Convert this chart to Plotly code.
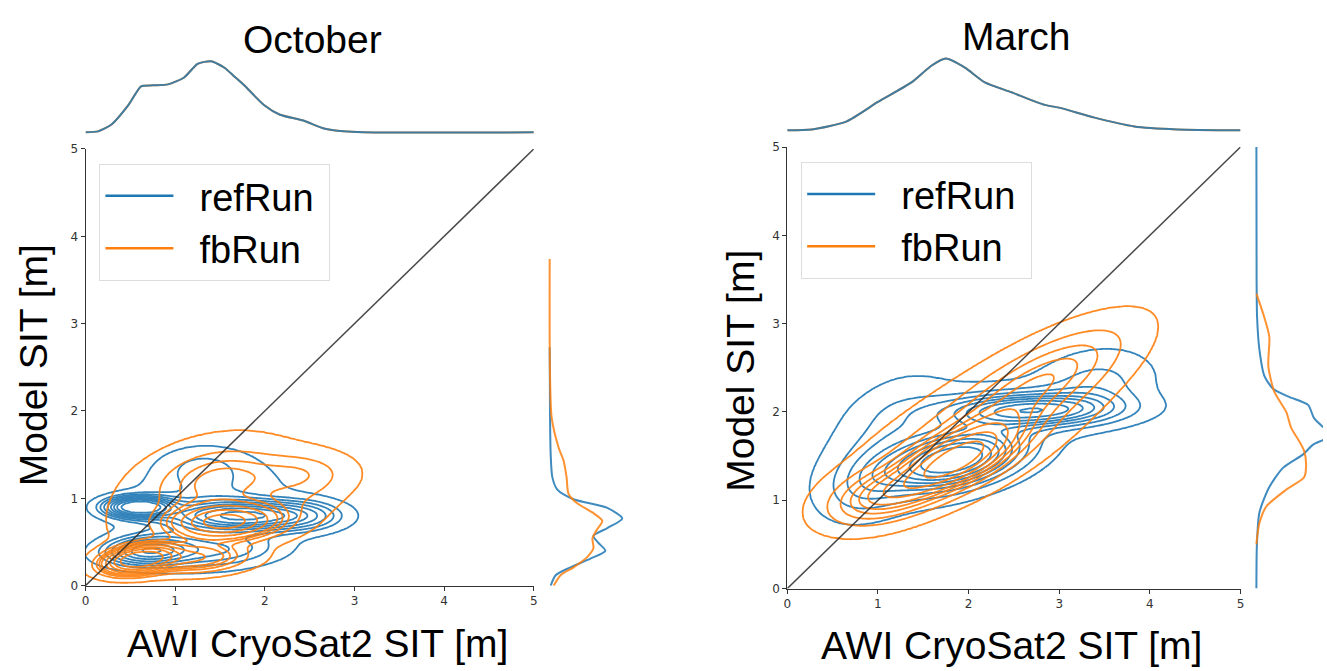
import numpy as np
import plotly.graph_objects as go

# ---------------- data ----------------
months = ["October", "March"]
runs = ["refRun", "fbRun"]
run_colors = {"refRun": "#1f77b4", "fbRun": "#ff7f0e"}
axis_ticks = [0, 1, 2, 3, 4, 5]
one_to_one = [0, 5]
x_label = "AWI CryoSat2 SIT [m]"
y_label = "Model SIT [m]"

# Joint KDE estimated as Gaussian components: (mean x, mean y, sd x, sd y, corr, weight)
oct_ref_components = [
    (0.60, 0.90, 0.22, 0.07, 0.0, 0.14),
    (1.75, 0.80, 0.45, 0.10, 0.0, 0.28),
    (0.70, 0.40, 0.30, 0.10, 0.1, 0.14),
    (1.50, 0.40, 0.45, 0.13, 0.2, 0.10),
    (1.30, 0.90, 0.60, 0.35, 0.25, 0.22),
    (2.45, 0.80, 0.30, 0.12, 0.0, 0.06),
    (1.30, 1.35, 0.30, 0.15, 0.0, 0.04),
]
oct_fb_components = [
    (0.60, 0.30, 0.22, 0.09, 0.3, 0.22),
    (1.20, 0.32, 0.35, 0.10, 0.1, 0.10),
    (1.55, 0.73, 0.35, 0.12, 0.1, 0.25),
    (1.50, 1.20, 0.40, 0.22, 0.2, 0.12),
    (1.30, 1.00, 0.75, 0.50, 0.35, 0.20),
    (2.30, 1.00, 0.40, 0.25, 0.4, 0.05),
    (2.40, 1.30, 0.35, 0.15, 0.0, 0.04),
]
mar_ref_components = [
    (1.85, 1.45, 0.45, 0.20, 0.4, 0.33),
    (2.70, 2.02, 0.60, 0.12, 0.1, 0.24),
    (1.70, 1.60, 0.75, 0.40, 0.5, 0.22),
    (3.40, 2.30, 0.40, 0.25, 0.2, 0.08),
    (0.90, 1.20, 0.30, 0.25, 0.3, 0.06),
    (1.20, 1.90, 0.40, 0.35, 0.3, 0.07),
]
mar_fb_components = [
    (1.85, 1.45, 0.45, 0.28, 0.7, 0.40),
    (2.80, 2.35, 0.60, 0.40, 0.75, 0.25),
    (2.00, 1.70, 0.90, 0.55, 0.7, 0.25),
    (1.00, 1.05, 0.35, 0.20, 0.4, 0.10),
]

# Marginal KDE curves (relative density)
oct_top_x = [0.0, 0.14, 0.29, 0.48, 0.62, 0.75, 0.92, 1.1, 1.25, 1.4, 1.55, 1.66, 1.77, 1.99, 2.17, 2.43, 2.66, 2.88, 3.1, 5.0]
oct_top_d = [0.0, 0.01, 0.08, 0.28, 0.47, 0.48, 0.49, 0.56, 0.70, 0.726, 0.66, 0.57, 0.48, 0.28, 0.18, 0.12, 0.04, 0.01, 0.0, 0.0]
mar_top_x = [0.0, 0.27, 0.65, 1.0, 1.37, 1.59, 1.75, 1.96, 2.18, 2.47, 2.84, 3.01, 3.39, 3.83, 4.3, 5.0]
mar_top_d = [0.0, 0.01, 0.09, 0.29, 0.49, 0.66, 0.733, 0.64, 0.49, 0.39, 0.26, 0.23, 0.13, 0.04, 0.01, 0.0]

oct_ref_right_y = [0.0, 0.12, 0.21, 0.31, 0.40, 0.49, 0.57, 0.66, 0.77, 0.89, 0.99, 1.10, 1.24, 1.5, 2.0, 2.73]
oct_ref_right_d = [0.01, 0.06, 0.21, 0.41, 0.56, 0.49, 0.44, 0.58, 0.73, 0.58, 0.24, 0.077, 0.027, 0.01, 0.003, 0.0]
oct_fb_right_y = [0.0, 0.12, 0.21, 0.33, 0.43, 0.54, 0.65, 0.74, 0.83, 0.94, 1.05, 1.24, 1.43, 1.58, 1.92, 2.5, 3.74]
oct_fb_right_d = [0.04, 0.11, 0.24, 0.38, 0.44, 0.43, 0.48, 0.53, 0.44, 0.28, 0.19, 0.17, 0.14, 0.09, 0.02, 0.002, 0.0]
mar_ref_right_y = [0.0, 0.49, 0.86, 1.15, 1.37, 1.52, 1.63, 1.70, 1.76, 1.82, 1.93, 2.08, 2.17, 2.26, 2.41, 2.71, 3.07, 3.5, 5.0]
mar_ref_right_d = [0.0, 0.005, 0.03, 0.13, 0.27, 0.47, 0.57, 0.70, 0.74, 0.68, 0.58, 0.52, 0.33, 0.17, 0.08, 0.03, 0.007, 0.002, 0.0]
mar_fb_right_y = [0.5, 0.56, 0.74, 0.93, 1.12, 1.26, 1.41, 1.56, 1.67, 1.82, 2.0, 2.23, 2.52, 2.85, 3.07, 3.34]
mar_fb_right_d = [0.0, 0.005, 0.03, 0.10, 0.30, 0.48, 0.50, 0.48, 0.43, 0.35, 0.30, 0.18, 0.12, 0.13, 0.08, 0.0]

# ---------------- helpers ----------------
W, H = 1327, 671
grid = np.linspace(-0.3, 5.3, 281)
GX, GY = np.meshgrid(grid, grid)


def mixture(comps):
    Z = np.zeros_like(GX)
    for mx, my, sx, sy, r, w in comps:
        dx = (GX - mx) / sx
        dy = (GY - my) / sy
        q = (dx * dx - 2 * r * dx * dy + dy * dy) / (1 - r * r)
        Z += w * np.exp(-0.5 * q) / (2 * np.pi * sx * sy * np.sqrt(1 - r * r))
    return Z


def level_index(Z, n_levels=10, thresh=0.05):
    # seaborn-style iso-proportion levels mapped to integer contour levels
    props = np.linspace(thresh, 1, n_levels)
    vals = np.sort(Z.ravel())[::-1]
    cum = np.cumsum(vals) / vals.sum()
    idx = np.searchsorted(cum, 1 - props)
    lev = np.take(vals, idx, mode="clip")
    xp = np.concatenate([[0.0], lev[:-1], [Z.max() * 1.001]])
    fp = np.arange(-1, n_levels)
    return np.interp(Z, xp, fp)


def px_x(p):
    return p / W


def px_y(p):
    return 1 - p / H


panels = {
    "October": dict(
        main_x=(82, 533), main_y=(591, 145), top_y=(130, 48), right_x=(547, 649),
        right_range=[-0.02, 1.0], comps={"refRun": oct_ref_components, "fbRun": oct_fb_components},
        top=(oct_top_x, oct_top_d),
        right={"refRun": (oct_ref_right_y, oct_ref_right_d), "fbRun": (oct_fb_right_y, oct_fb_right_d)},
        title_xy=(310, 33), xlab_xy=(315, 650), ylab_xy=(30, 366), legend_xy=(96, 160), legend="legend",
    ),
    "March": dict(
        main_x=(788, 1244), main_y=(594, 143), top_y=(128, 46), right_x=(1258, 1327),
        right_range=[-0.02, 0.67], comps={"refRun": mar_ref_components, "fbRun": mar_fb_components},
        top=(mar_top_x, mar_top_d),
        right={"refRun": (mar_ref_right_y, mar_ref_right_d), "fbRun": (mar_fb_right_y, mar_fb_right_d)},
        title_xy=(1018, 30), xlab_xy=(1014, 652), ylab_xy=(741, 372), legend_xy=(802, 158), legend="legend2",
    ),
}

fig = go.Figure()
layout = dict()
annotations = []
big_font = dict(family="Liberation Sans, Arial, sans-serif", size=39, color="black")
tick_font = dict(family="DejaVu Sans, sans-serif", size=12, color="#333333")

for i, month in enumerate(months):
    p = panels[month]
    n = 3 * i
    xa_main, ya_main = f"x{n + 1 if n else ''}", f"y{n + 1 if n else ''}"
    xa_top, ya_top = f"x{n + 2}", f"y{n + 2}"
    xa_right, ya_right = f"x{n + 3}", f"y{n + 3}"
    kx = lambda a: "xaxis" + a[1:]
    ky = lambda a: "yaxis" + a[1:]

    main_xd = [px_x(p["main_x"][0]), px_x(p["main_x"][1])]
    main_yd = [px_y(p["main_y"][0]), px_y(p["main_y"][1])]
    axis_common = dict(range=[0, 5], showgrid=False, zeroline=False, showline=True, linecolor="#333333",
                       linewidth=1, ticks="outside", ticklen=4, tickcolor="#333333", tickvals=axis_ticks,
                       ticktext=[str(t) for t in axis_ticks], tickfont=tick_font, fixedrange=True)
    layout[kx(xa_main)] = dict(domain=main_xd, anchor=ya_main, **axis_common)
    layout[ky(ya_main)] = dict(domain=main_yd, anchor=xa_main, **axis_common)
    hidden = dict(visible=False, showgrid=False, zeroline=False, fixedrange=True)
    layout[kx(xa_top)] = dict(domain=main_xd, anchor=ya_top, range=[0, 5], **hidden)
    layout[ky(ya_top)] = dict(domain=[px_y(p["top_y"][0]), px_y(p["top_y"][1])], anchor=xa_top,
                              range=[-0.02, 0.80], **hidden)
    layout[kx(xa_right)] = dict(domain=[px_x(p["right_x"][0]), px_x(p["right_x"][1])], anchor=ya_right,
                                range=p["right_range"], **hidden)
    layout[ky(ya_right)] = dict(domain=main_yd, anchor=xa_right, range=[0, 5], **hidden)

    # joint KDE contours
    for run in runs:
        Z = mixture(p["comps"][run])
        T = level_index(Z)
        col = run_colors[run]
        fig.add_trace(go.Contour(
            x=grid, y=grid, z=T, autocontour=False,
            contours=dict(start=0, end=8, size=1, coloring="lines"),
            colorscale=[[0, col], [1, col]], showscale=False,
            line=dict(width=1.8, smoothing=1.0), opacity=0.9,
            xaxis=xa_main, yaxis=ya_main, hoverinfo="skip", showlegend=False,
        ))
    # 1:1 line
    fig.add_trace(go.Scatter(x=one_to_one, y=one_to_one, mode="lines",
                             line=dict(color="rgba(40,40,40,0.85)", width=1.5),
                             xaxis=xa_main, yaxis=ya_main, showlegend=False, hoverinfo="skip"))
    # legend entries
    for run in runs:
        fig.add_trace(go.Scatter(x=[None], y=[None], mode="lines", name="\u00a0\u00a0" + run + "\u00a0",
                                 line=dict(color=run_colors[run], width=2.5),
                                 xaxis=xa_main, yaxis=ya_main, legend=p["legend"]))
    # top marginal (same observations for both runs)
    tx, td = p["top"]
    for run in ["fbRun", "refRun"]:
        fig.add_trace(go.Scatter(x=tx, y=td, mode="lines",
                                 line=dict(color=run_colors[run], width=2, shape="spline", smoothing=0.6),
                                 opacity=0.85, xaxis=xa_top, yaxis=ya_top, showlegend=False, hoverinfo="skip"))
    # right marginal
    for run in runs:
        ry, rd = p["right"][run]
        fig.add_trace(go.Scatter(x=rd, y=ry, mode="lines",
                                 line=dict(color=run_colors[run], width=2, shape="spline", smoothing=0.7),
                                 opacity=0.85, xaxis=xa_right, yaxis=ya_right, showlegend=False, hoverinfo="skip"))

    # texts
    annotations.append(dict(text=month, x=px_x(p["title_xy"][0]), y=px_y(p["title_xy"][1]), xref="paper", yref="paper",
                            showarrow=False, font=big_font, xanchor="center", yanchor="middle"))
    annotations.append(dict(text=x_label, x=px_x(p["xlab_xy"][0]), y=px_y(p["xlab_xy"][1]), xref="paper", yref="paper",
                            showarrow=False, font=big_font, xanchor="center", yanchor="middle"))
    annotations.append(dict(text=y_label, x=px_x(p["ylab_xy"][0]), y=px_y(p["ylab_xy"][1]), xref="paper", yref="paper",
                            showarrow=False, font=big_font, xanchor="center", yanchor="middle", textangle=-90))
    layout[p["legend"]] = dict(x=px_x(p["legend_xy"][0]), y=px_y(p["legend_xy"][1]), xanchor="left", yanchor="top",
                               bgcolor="rgba(255,255,255,0.85)", bordercolor="#dddddd", borderwidth=1,
                               font=dict(family="Liberation Sans, Arial, sans-serif", size=38, color="black"),
                               itemwidth=68, tracegroupgap=0)

fig.update_layout(width=W, height=H, margin=dict(l=0, r=0, t=0, b=0), paper_bgcolor="white",
                  plot_bgcolor="white", annotations=annotations, **layout)
fig.write_html("out.html", config={"displayModeBar": False},
               post_script="document.body.style.margin='0px';document.body.style.overflow='hidden';")
